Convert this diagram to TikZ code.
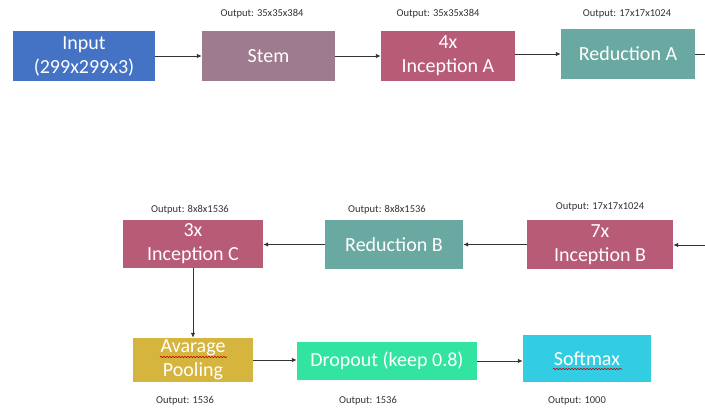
\documentclass[tikz,border=0pt]{standalone}
\usepackage{fontspec}
\setmainfont{Carlito}
\usetikzlibrary{arrows.meta,decorations.pathmorphing}

\definecolor{inputblue}{RGB}{68,114,196}
\definecolor{stemmauve}{RGB}{158,123,142}
\definecolor{incepred}{RGB}{184,91,118}
\definecolor{reducteal}{RGB}{106,169,162}
\definecolor{poolgold}{RGB}{214,181,62}
\definecolor{dropgreen}{RGB}{51,227,160}
\definecolor{softcyan}{RGB}{51,205,227}

\begin{document}
\begin{tikzpicture}[x=1pt,y=-1pt,
  block/.style={rectangle,inner sep=0pt,text=white,align=center,
    font=\fontsize{20}{24}\selectfont},
  outlbl/.style={text=black!80,font=\fontsize{10.5}{12}\selectfont},
  conn/.style={draw=black!80,line width=0.9pt,-{Latex[length=5pt,width=4.5pt]}},
  wavy/.style={draw=red!75!black,line width=0.6pt,decorate,
    decoration={snake,amplitude=0.7pt,segment length=3pt}}]
\useasboundingbox (0,0) rectangle (705,409);

\node[block,fill=inputblue,minimum width=142pt,minimum height=50pt] (input) at (84,56) {Input\\(299x299x3)};
\node[block,fill=stemmauve,minimum width=133pt,minimum height=50pt] (stem) at (268.5,56) {Stem};
\node[block,fill=incepred,minimum width=134pt,minimum height=50pt] (incA) at (448,56) {4x\\Inception A};
\node[block,fill=reducteal,minimum width=134pt,minimum height=50pt] (redA) at (628,54) {Reduction A};

\node[block,fill=incepred,minimum width=140pt,minimum height=48pt] (incC) at (193,244) {3x\\Inception C};
\node[block,fill=reducteal,minimum width=138pt,minimum height=49pt] (redB) at (394,244.5) {Reduction B};
\node[block,fill=incepred,minimum width=146pt,minimum height=49pt] (incB) at (600,244.5) {7x\\Inception B};

\node[block,fill=poolgold,minimum width=120pt,minimum height=44pt] (pool) at (193,360) {Avarage\\Pooling};
\node[block,fill=dropgreen,minimum width=180pt,minimum height=38pt] (drop) at (387,361) {Dropout (keep 0.8)};
\node[block,fill=softcyan,minimum width=128pt,minimum height=47pt] (soft) at (587,358.5) {Softmax};

\node[outlbl] (outstem) at (262,14) {Output: 35x35x384};
\node[outlbl] (outincA) at (438,14) {Output: 35x35x384};
\node[outlbl] (outredA) at (627,14) {Output: 17x17x1024};
\node[outlbl] (outincC) at (190,210) {Output: 8x8x1536};
\node[outlbl] (outredB) at (387,210) {Output: 8x8x1536};
\node[outlbl] (outincB) at (600,207) {Output: 17x17x1024};
\node[outlbl] (outpool) at (185,401) {Output: 1536};
\node[outlbl] (outdrop) at (368,401) {Output: 1536};
\node[outlbl] (outsoft) at (577,401) {Output: 1000};

\coordinate (edgeA) at (705,54);
\coordinate (edgeB) at (705,245);

\draw[conn] (input.east) -- (input.east -| stem.west);
\draw[conn] (stem.east) -- (stem.east -| incA.west);
\draw[conn] (incA.east |- redA.west) -- (redA.west);
\draw[conn,-] (redA.east) -- (edgeA);
\draw[conn] (edgeB) -- (edgeB -| incB.east);
\draw[conn] (incB.west) -- (incB.west -| redB.east);
\draw[conn] (redB.west) -- (redB.west -| incC.east);
\draw[conn] (incC.south) -- (pool.north);
\draw[conn] (pool.east) -- (pool.east -| drop.west);
\draw[conn] (drop.east) -- (drop.east -| soft.west);

\draw[wavy] (160,357) -- (227,357);
\draw[wavy] (553,369) -- (622,369);
\end{tikzpicture}
\end{document}
